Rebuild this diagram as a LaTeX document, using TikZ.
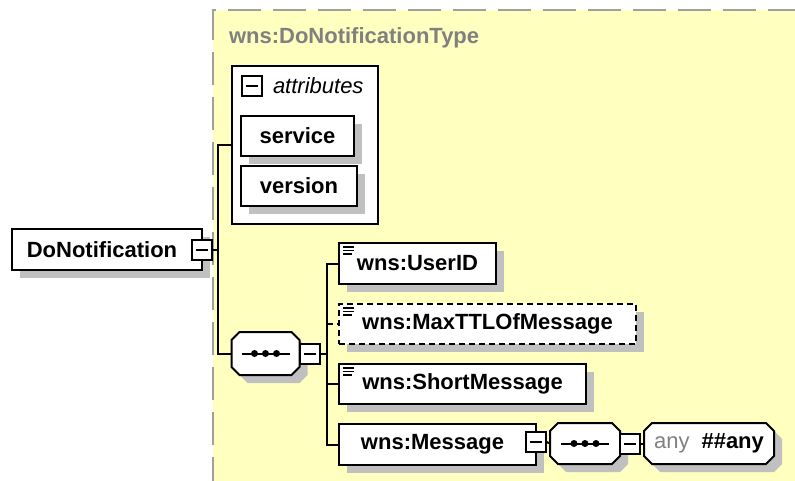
\documentclass[tikz,border=0pt]{standalone}
\usepackage{fontspec}
\setmainfont{Liberation Sans}
\usepackage{xcolor}
\usepackage{tikz}
\usetikzlibrary{shadows, calc}
\definecolor{typecolor}{RGB}{255,255,192}
\definecolor{typeedge}{RGB}{160,160,160}
\definecolor{typelabel}{RGB}{128,128,128}
\definecolor{shadecolor}{RGB}{192,192,192}

% rectangle with cut corners, for model groups and wildcards
\makeatletter
\def\octcut{8pt}
\pgfdeclareshape{octabox}{
  \inheritsavedanchors[from=rectangle]
  \inheritanchorborder[from=rectangle]
  \inheritanchor[from=rectangle]{center}
  \inheritanchor[from=rectangle]{north}
  \inheritanchor[from=rectangle]{south}
  \inheritanchor[from=rectangle]{east}
  \inheritanchor[from=rectangle]{west}
  \inheritanchor[from=rectangle]{north east}
  \inheritanchor[from=rectangle]{north west}
  \inheritanchor[from=rectangle]{south east}
  \inheritanchor[from=rectangle]{south west}
  \backgroundpath{
    \southwest \edef\octxa{\the\pgf@x}\edef\octya{\the\pgf@y}
    \northeast \edef\octxb{\the\pgf@x}\edef\octyb{\the\pgf@y}
    \pgfpathmoveto{\pgfqpoint{\dimexpr\octxa+\octcut}{\octya}}
    \pgfpathlineto{\pgfqpoint{\dimexpr\octxb-\octcut}{\octya}}
    \pgfpathlineto{\pgfqpoint{\octxb}{\dimexpr\octya+\octcut}}
    \pgfpathlineto{\pgfqpoint{\octxb}{\dimexpr\octyb-\octcut}}
    \pgfpathlineto{\pgfqpoint{\dimexpr\octxb-\octcut}{\octyb}}
    \pgfpathlineto{\pgfqpoint{\dimexpr\octxa+\octcut}{\octyb}}
    \pgfpathlineto{\pgfqpoint{\octxa}{\dimexpr\octyb-\octcut}}
    \pgfpathlineto{\pgfqpoint{\octxa}{\dimexpr\octya+\octcut}}
    \pgfpathclose
  }
}
\makeatother

\begin{document}
\begin{tikzpicture}[
    x=1pt, y=-1pt,
    line width=2pt,
    elem/.style={draw, fill=white, inner sep=0pt, minimum height=41pt, font=\fontsize{22}{26}\selectfont\bfseries, drop shadow={shadow xshift=8pt, shadow yshift=-8pt, fill=shadecolor, opacity=1}},
    leaf/.style={elem, path picture={\foreach \dy/\len in {4/11,7.5/11,11/9} \draw[solid, line width=1.3pt] ([shift={(4pt,-\dy pt)}]path picture bounding box.north west) -- ++(\len,0);}},
    optional/.style={dash pattern=on 6pt off 4pt},
    expander/.style={draw, fill=white, inner sep=0pt, minimum size=20pt, path picture={\draw ([xshift=-6pt]path picture bounding box.center) -- ([xshift=6pt]path picture bounding box.center);}},
    compositor/.style={elem, octabox, minimum width=66pt, minimum height=41pt, path picture={\draw ([xshift=-24pt]path picture bounding box.center) -- ([xshift=24pt]path picture bounding box.center); \foreach \dx in {-11,0,11} \fill[black] ([xshift=\dx pt]path picture bounding box.center) circle[radius=3.5pt];}},
    wildcard/.style={elem, octabox, minimum width=128pt, minimum height=39pt, font=\fontsize{22}{26}\selectfont}
]
    \useasboundingbox (0,0) rectangle (795,481);

    % Complex type frame
    \fill[typecolor] (213,10) rectangle (800,490);
    \draw[typeedge, line width=2.5pt, dash pattern=on 33pt off 12pt] (213,490) -- (213,10) -- (800,10);
    \node[anchor=base west, font=\fontsize{22}{26}\selectfont\bfseries, text=typelabel, inner sep=0pt] (typename) at (228,44) {wns:DoNotificationType};

    % Attribute group
    \node[draw, fill=white, minimum width=146pt, minimum height=158pt] (attrs) at (305,145) {};
    \node[expander] (attrx) at (251.5,86) {};
    \node[anchor=west, inner sep=0pt, font=\fontsize{22}{26}\selectfont\itshape] (attrlabel) at (272,86) {attributes};
    \node[elem, minimum width=113pt, minimum height=40pt] (service) at (297.5,136) {service};
    \node[elem, minimum width=116pt, minimum height=40pt] (version) at (299,186) {version};

    % Root element
    \node[elem, minimum width=190pt] (root) at (107,249.5) {DoNotification\hspace*{10pt}};
    \node[expander] (rootx) at (202,250) {};

    % Sequence and its children
    \node[compositor] (seq) at (265.5,353.5) {};
    \node[expander] (seqx) at (310,353.5) {};
    \node[leaf, minimum width=157pt] (userid) at (417.5,263.5) {wns:UserID};
    \node[leaf, optional, minimum width=297pt, minimum height=40pt] (maxttl) at (487.5,324) {wns:MaxTTLOfMessage};
    \node[leaf, minimum width=247pt, minimum height=40pt] (shortmsg) at (462.5,384) {wns:ShortMessage};
    \node[elem, minimum width=197pt] (message) at (437.5,444.5) {wns:Message\hspace*{10pt}};
    \node[expander] (msgx) at (535.5,442) {};

    % Content of the message
    \node[compositor, minimum width=68pt, minimum height=39pt] (seqmsg) at (585,443.5) {};
    \node[expander] (seqmsgx) at (630,443.5) {};
    \node[wildcard] (wild) at (709,443.5) {\textcolor{typelabel}{any}\hspace{12pt}\textbf{\#\#any}};

    % Connectors
    \draw (rootx.east) -- ++(5,0) coordinate (rootfork);
    \draw (attrs.west) -| (rootfork) |- (seq.west);
    \draw (seqx.east) -- ++(6,0) coordinate (seqfork);
    \draw (userid.west) -| (seqfork) |- (message.west);
    \draw (seqfork |- shortmsg.west) -- (shortmsg.west);
    \draw[optional] (seqfork |- maxttl.west) -- (maxttl.west);
    \draw (msgx.east) -- (seqmsg.west);
    \draw (seqmsgx.east) -- (wild.west);
\end{tikzpicture}
\end{document}
